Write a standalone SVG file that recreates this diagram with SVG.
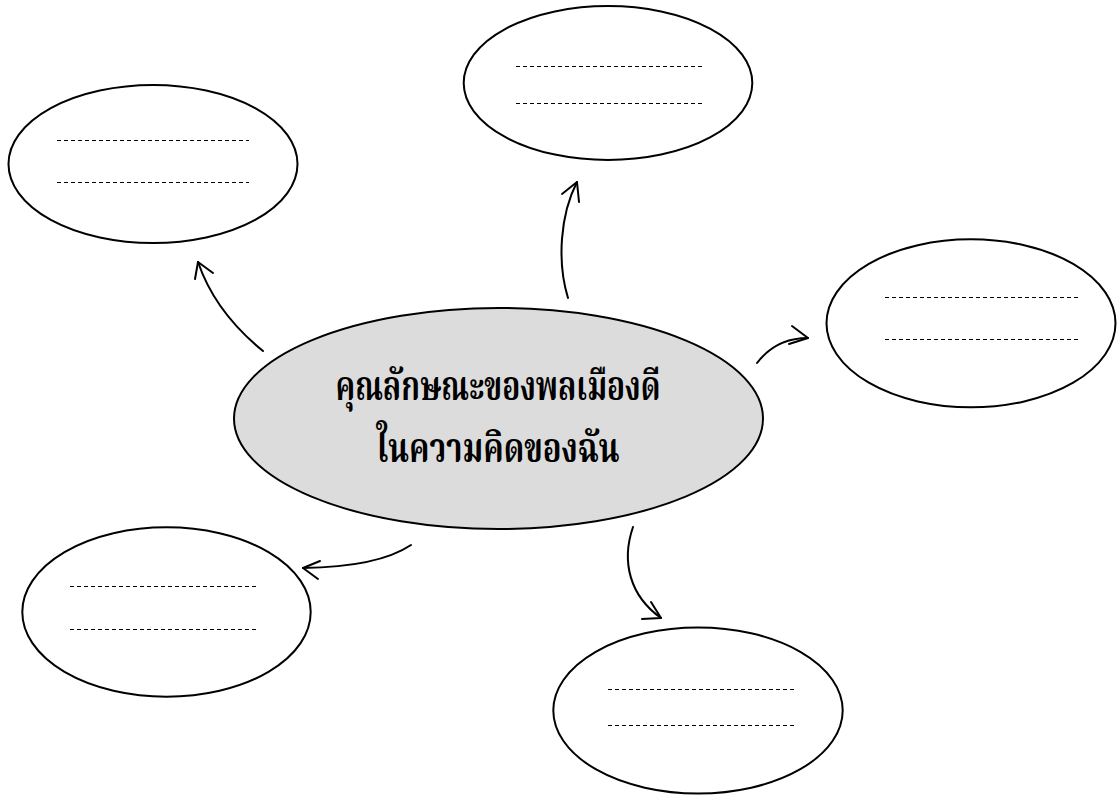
<svg xmlns="http://www.w3.org/2000/svg" width="1117" height="795" viewBox="0 0 1117 795">
  <style>
    .bubble { fill: #ffffff; stroke: #000000; stroke-width: 2; }
    .center { fill: #dcdcdc; stroke: #000000; stroke-width: 2; }
    .dots { stroke: #000000; stroke-width: 1; stroke-dasharray: 4 3; fill: none; }
    .conn { fill: none; stroke: #000000; stroke-width: 2; stroke-linecap: round; stroke-linejoin: round; }
    .title { font-family: "Noto Serif Thai", "Noto Sans Thai", "Loma", "Garuda", "DejaVu Sans", sans-serif; font-weight: bold; font-size: 40px; fill: #000000; text-anchor: middle; }
  </style>
  <rect x="0" y="0" width="1117" height="795" fill="#ffffff"/>

  <g id="connectors">
    <g id="arrow-topleft">
      <path class="conn" d="M263,351 Q215,312 198,262"/>
      <path class="conn" d="M195,279 L198,262 L213,273"/>
    </g>
    <g id="arrow-top">
      <path class="conn" d="M568,298 C557,262 560,215 577,182"/>
      <path class="conn" d="M562,194 L577,182 L579,202"/>
    </g>
    <g id="arrow-right">
      <path class="conn" d="M757,363 Q776,338 808,338"/>
      <path class="conn" d="M792,326 L808,338 L789,344"/>
    </g>
    <g id="arrow-bottomleft">
      <path class="conn" d="M411,545 Q378,567 303,568"/>
      <path class="conn" d="M320,561 L303,568 L318,579"/>
    </g>
    <g id="arrow-bottom">
      <path class="conn" d="M633,527 C621,562 630,596 661,618"/>
      <path class="conn" d="M642,619 L661,618 L651,602"/>
    </g>
  </g>

  <g id="node-center">
    <ellipse class="center" cx="498.5" cy="418.5" rx="264.5" ry="110.5"/>
    <text class="title" x="498" y="400" textLength="325" lengthAdjust="spacingAndGlyphs">คุณลักษณะของพลเมืองดี</text>
    <text class="title" x="498" y="462" textLength="243" lengthAdjust="spacingAndGlyphs">ในความคิดของฉัน</text>
  </g>

  <g id="node-topleft">
    <ellipse class="bubble" cx="153" cy="164" rx="144.5" ry="79"/>
    <line class="dots" x1="57" y1="140.5" x2="249" y2="140.5"/>
    <line class="dots" x1="57" y1="182.5" x2="249" y2="182.5"/>
  </g>

  <g id="node-top">
    <ellipse class="bubble" cx="608" cy="83" rx="144.3" ry="77"/>
    <line class="dots" x1="516" y1="66.5" x2="704" y2="66.5"/>
    <line class="dots" x1="516" y1="103.5" x2="704" y2="103.5"/>
  </g>

  <g id="node-right">
    <ellipse class="bubble" cx="971" cy="323.3" rx="144.5" ry="84"/>
    <line class="dots" x1="885" y1="297.5" x2="1078" y2="297.5"/>
    <line class="dots" x1="885" y1="339.5" x2="1078" y2="339.5"/>
  </g>

  <g id="node-bottomleft">
    <ellipse class="bubble" cx="166.5" cy="612" rx="144.2" ry="84.7"/>
    <line class="dots" x1="70" y1="586.5" x2="259" y2="586.5"/>
    <line class="dots" x1="70" y1="629.5" x2="259" y2="629.5"/>
  </g>

  <g id="node-bottom">
    <ellipse class="bubble" cx="698" cy="710.5" rx="144.7" ry="83"/>
    <line class="dots" x1="608" y1="689.5" x2="796" y2="689.5"/>
    <line class="dots" x1="608" y1="725.5" x2="796" y2="725.5"/>
  </g>
</svg>
